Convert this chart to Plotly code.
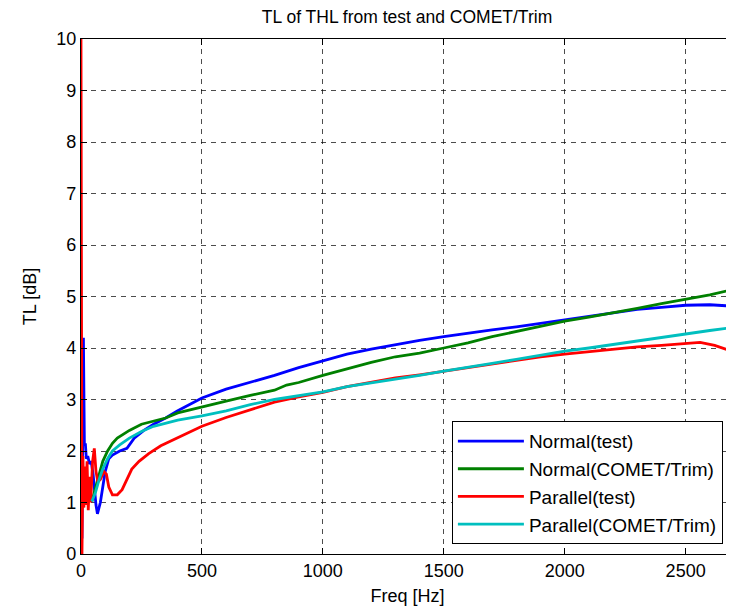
import plotly.graph_objects as go

# ---- data ----
f_normal_test = [4, 8, 10, 14, 18, 22, 28, 35, 42, 50, 56, 62, 68, 72, 80, 90, 100, 115, 130, 160, 190, 220, 260, 300, 350, 400, 450, 500, 600, 700, 750, 800, 900, 1000, 1100, 1200, 1300, 1400, 1500, 1600, 1700, 1800, 1900, 2000, 2100, 2200, 2300, 2400, 2500, 2600, 2700]
tl_normal_test = [0.3, 2.5, 4.2, 2.1, 2.15, 1.85, 1.9, 1.75, 1.8, 1.55, 1.2, 0.95, 0.78, 0.85, 1.0, 1.3, 1.6, 1.85, 1.92, 2.0, 2.05, 2.25, 2.4, 2.52, 2.64, 2.78, 2.9, 3.03, 3.2, 3.33, 3.41, 3.47, 3.62, 3.75, 3.88, 3.98, 4.07, 4.15, 4.22, 4.29, 4.35, 4.41, 4.48, 4.54, 4.62, 4.68, 4.75, 4.79, 4.83, 4.84, 4.81]

f_normal_comet = [45, 70, 90, 110, 130, 150, 200, 250, 300, 350, 400, 500, 600, 700, 800, 850, 900, 1000, 1100, 1200, 1300, 1400, 1500, 1600, 1700, 1800, 1900, 2000, 2100, 2200, 2300, 2400, 2500, 2600, 2700]
tl_normal_comet = [1.02, 1.45, 1.8, 2.0, 2.15, 2.25, 2.4, 2.52, 2.58, 2.64, 2.74, 2.86, 2.97, 3.08, 3.18, 3.28, 3.33, 3.47, 3.6, 3.72, 3.83, 3.9, 4.0, 4.1, 4.22, 4.32, 4.42, 4.52, 4.6, 4.68, 4.77, 4.86, 4.94, 5.03, 5.14]

f_parallel_test = [0, 4, 8, 12, 16, 20, 25, 30, 35, 40, 48, 55, 62, 70, 80, 95, 105, 115, 130, 150, 170, 190, 210, 240, 280, 330, 400, 500, 600, 700, 800, 900, 1000, 1100, 1200, 1300, 1400, 1500, 1600, 1700, 1800, 1900, 2000, 2100, 2200, 2300, 2400, 2500, 2560, 2620, 2700]
tl_parallel_test = [10.0, 0.0, 1.9, 0.9, 1.7, 0.95, 1.8, 0.85, 1.5, 1.0, 1.8, 2.05, 1.6, 1.4, 1.45, 1.6, 1.55, 1.3, 1.15, 1.15, 1.25, 1.45, 1.65, 1.8, 1.95, 2.1, 2.25, 2.48, 2.65, 2.8, 2.95, 3.05, 3.14, 3.25, 3.33, 3.42, 3.48, 3.55, 3.62, 3.68, 3.76, 3.83, 3.88, 3.93, 3.97, 4.02, 4.05, 4.09, 4.11, 4.05, 3.92]

f_parallel_comet = [45, 60, 75, 90, 110, 130, 160, 200, 250, 300, 400, 500, 600, 700, 800, 900, 1000, 1100, 1200, 1300, 1400, 1500, 1600, 1700, 1800, 1900, 2000, 2100, 2200, 2300, 2400, 2500, 2600, 2700]
tl_parallel_comet = [1.02, 1.2, 1.45, 1.65, 1.85, 2.0, 2.12, 2.25, 2.38, 2.48, 2.6, 2.68, 2.78, 2.9, 3.0, 3.07, 3.15, 3.25, 3.32, 3.4, 3.47, 3.55, 3.62, 3.7, 3.78, 3.86, 3.94, 4.0, 4.07, 4.14, 4.2, 4.27, 4.34, 4.4]

x_ticks = [0, 500, 1000, 1500, 2000, 2500]
y_ticks = [0, 1, 2, 3, 4, 5, 6, 7, 8, 9, 10]

FONT = "Liberation Sans, Arial, sans-serif"
FS = 18
W, H = 726, 602  # page body has an 8px margin

fig = go.Figure()
series = [
    ("Normal(test)", f_normal_test, tl_normal_test, "#0000FF"),
    ("Normal(COMET/Trim)", f_normal_comet, tl_normal_comet, "#008000"),
    ("Parallel(test)", f_parallel_test, tl_parallel_test, "#FF0000"),
    ("Parallel(COMET/Trim)", f_parallel_comet, tl_parallel_comet, "#00BFBF"),
]
for name, xs, ys, col in series:
    fig.add_trace(go.Scatter(x=xs, y=ys, mode="lines", name=name,
                             line=dict(color=col, width=2.8)))

axis_common = dict(
    showline=True, linecolor="black", linewidth=1.2,
    ticks="inside", ticklen=6, tickcolor="black",
    showgrid=True, gridcolor="rgba(0,0,0,0.7)", griddash="5px,5px", gridwidth=1,
    zeroline=False, tickfont=dict(family=FONT, size=FS, color="black"),
    mirror="ticks", automargin=False,
)

fig.update_layout(
    width=W, height=H,
    margin=dict(l=73, r=0, t=31, b=56),
    paper_bgcolor="white", plot_bgcolor="white",
    title=dict(text="TL of THL from test and COMET/Trim", x=399 / W, xanchor="center",
               y=1 - 9 / H, yanchor="middle", yref="container",
               font=dict(family=FONT, size=17.5, color="black")),
    xaxis=dict(range=[0, 2700], tickvals=x_ticks,
               title=dict(text="Freq [Hz]", font=dict(family=FONT, size=FS, color="black"), standoff=9),
               **axis_common),
    yaxis=dict(range=[0, 10], tickvals=y_ticks,
               title=dict(text="TL [dB]", font=dict(family=FONT, size=FS, color="black"), standoff=14),
               **axis_common),
    legend=dict(x=0.983, xanchor="right", y=0.019, yanchor="bottom",
                bgcolor="white", bordercolor="black", borderwidth=1,
                font=dict(family=FONT, size=19, color="black"),
                tracegroupgap=0, itemwidth=66),
    showlegend=True,
)

fig.write_html("out.html")
